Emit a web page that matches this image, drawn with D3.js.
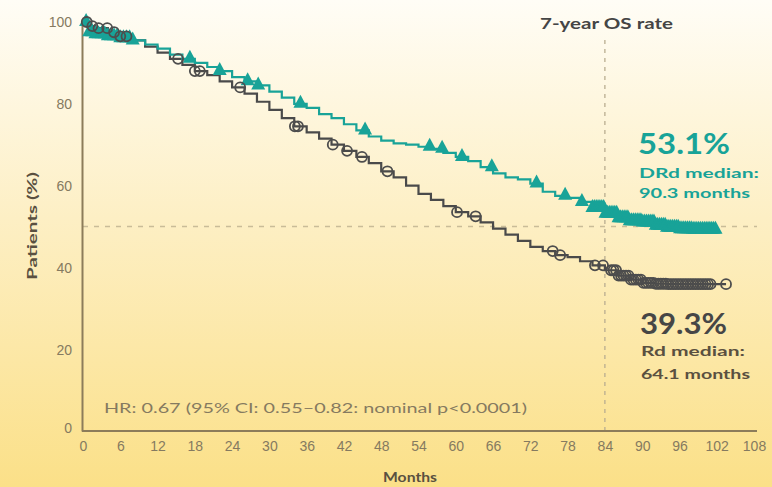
<!DOCTYPE html>
<html>
<head>
<meta charset="utf-8">
<script src="https://cdn.jsdelivr.net/npm/d3@7"></script>
<style>
  body { margin: 0; }
  svg { display: block; font-family: Lato, "DejaVu Sans", sans-serif; }
</style>
</head>
<body>
<div id="chart"></div>
<script>
// KM curves (months, % alive)
var drdMonths = [0, 1, 2, 4, 6, 8, 10, 12, 14, 16, 18, 20, 22, 24, 26, 28, 30, 32, 34, 36, 38, 40, 42, 44, 46, 48, 50, 52, 54, 56, 58, 60, 62, 64, 66, 68, 70, 72, 74, 76, 78, 80, 82, 84, 86, 88, 90, 92, 94, 96, 98, 100, 102]
var drdSurv = [100, 97.5, 97, 96.5, 96, 95.5, 94.5, 93.5, 92, 91, 90, 89, 88, 86.5, 85.5, 84.5, 83, 81.5, 80, 79, 77.5, 76.5, 75, 73.5, 72, 71, 70.3, 70, 69.5, 69, 68, 67, 66, 64.5, 63, 62, 61.5, 60.5, 58.5, 57.5, 57, 56, 54.5, 53.1, 52, 51.3, 51, 50.2, 49.7, 49.3, 49.2, 49.2, 49.2]

var rdMonths = [0, 1, 2, 4, 6, 8, 10, 12, 14, 16, 18, 20, 22, 24, 26, 28, 30, 32, 34, 36, 38, 40, 42, 44, 46, 48, 50, 52, 54, 56, 58, 60, 62, 64, 66, 68, 70, 72, 74, 76, 78, 80, 82, 84, 86, 88, 90, 92, 94, 96, 98, 100, 103.5]
var rdSurv = [100, 99, 98.5, 97.5, 96.5, 95.5, 94, 92.5, 91, 89.5, 88, 87, 85.5, 84, 82.5, 80.5, 78.5, 76.5, 74.5, 73, 71.5, 70, 68.5, 67, 65.5, 63.5, 62, 60, 58, 56.5, 55, 53.5, 52.5, 51, 49.5, 48, 46.5, 45, 44, 43, 42.5, 41.5, 40.5, 39.3, 38, 37, 36.2, 36, 35.9, 35.9, 35.9, 35.9, 35.9]

// censored patients (months)
var drdCensor = [0.5, 1, 1.5, 2, 2.5, 3, 3.5, 4, 4.5, 5, 5.5, 6, 6.5, 7, 7.5, 8, 17.2, 22, 26.5, 28.2, 35, 45.4, 55.8, 57.8, 61, 65.8, 73, 77.6, 80.3,
  82, 82.3, 82.6, 82.9, 83.2, 83.5, 83.8, 84.1, 84.4, 84.7, 85, 85.3, 85.6, 85.9, 86.2, 86.5, 86.8, 87.1, 87.4, 87.7, 88, 88.3, 88.6, 88.9,
  89.2, 89.5, 89.8, 90.1, 90.4, 90.7, 91, 91.3, 91.6, 91.9, 92.2, 92.5, 92.8, 93.1, 93.4, 93.7, 94, 94.3, 94.6, 94.9, 95.2, 95.5, 95.8,
  96.1, 96.4, 96.7, 97, 97.3, 97.6, 97.9, 98.2, 98.5, 98.8, 99.1, 99.4, 99.7, 100, 100.3, 100.6, 100.9, 101.2, 101.5, 101.8]
var rdCensor = [0.6, 1.5, 2.5, 3.9, 5, 6, 7, 15.3, 18, 18.8, 25.3, 34.1, 34.6, 40.2, 42.5, 44.9, 49, 60.2, 63.2, 75.6, 76.8, 82.4, 83.7,
  85, 85.4, 85.8, 86.2, 86.6, 87, 87.4, 87.8, 88.2, 88.6, 89, 89.4, 89.8, 90.2, 90.6, 91, 91.4, 91.8, 92.2, 92.6, 93, 93.4, 93.8,
  94.2, 94.6, 95, 95.4, 95.8, 96.2, 96.6, 97, 97.4, 97.8, 98.2, 98.6, 99, 99.4, 99.8, 100.2, 100.6, 101, 103.5]

var xTicks = [0, 6, 12, 18, 24, 30, 36, 42, 48, 54, 60, 66, 72, 78, 84, 90, 96, 102, 108]
var yTicks = [0, 20, 40, 60, 80, 100]

var W = 772, H = 487
var teal = "#18a398", dark = "#4a4a4a", axisCol = "#8c7c5a", tickCol = "#857a60"

var svg = d3.select("#chart").append("svg")
  .attr("width", W).attr("height", H)

var grad = svg.append("defs").append("linearGradient")
  .attr("id", "bg").attr("x1", 0).attr("y1", 0).attr("x2", 0).attr("y2", 1)
grad.append("stop").attr("offset", "0%").attr("stop-color", "#fffdf6")
grad.append("stop").attr("offset", "45%").attr("stop-color", "#fdefc4")
grad.append("stop").attr("offset", "100%").attr("stop-color", "#fbe088")
svg.append("rect").attr("width", W).attr("height", H).attr("fill", "url(#bg)")

var x = d3.scaleLinear().domain([0, 108]).range([83, 754])
var y = d3.scaleLinear().domain([0, 100]).range([431, 22])

// reference lines
svg.append("line")
  .attr("x1", x(84)).attr("x2", x(84)).attr("y1", 40).attr("y2", y(0))
  .attr("stroke", "#b9ad90").attr("stroke-width", 1.3).attr("stroke-dasharray", "4,5")
svg.append("line")
  .attr("x1", x(0)).attr("x2", 757).attr("y1", y(50)).attr("y2", y(50))
  .attr("stroke", "#c9bc98").attr("stroke-width", 1.5).attr("stroke-dasharray", "5,6")

// axes
var yAxis = svg.append("g")
  .attr("transform", "translate(82,0)")
  .call(d3.axisLeft(y).tickValues(yTicks).tickSize(0).tickPadding(10))
yAxis.select(".domain").attr("stroke", axisCol).attr("stroke-width", 2)
yAxis.selectAll("text").attr("fill", tickCol).attr("font-size", 14).attr("dy", "0.35em")
yAxis.selectAll(".tick").filter(function(d){ return d == 0 }).select("text").attr("dy", "0.1em")

var xAxis = svg.append("g")
  .attr("transform", "translate(0,431)")
  .call(d3.axisBottom(x).tickValues(xTicks).tickSize(0).tickPadding(10))
xAxis.select(".domain").attr("stroke", axisCol).attr("stroke-width", 2)
  .attr("d", "M82,0H757")
xAxis.selectAll("text").attr("fill", tickCol).attr("font-size", 14)

svg.append("text")
  .attr("x", 383).attr("y", 482)
  .attr("font-size", 13).attr("font-weight", "bold").attr("fill", "#5a5040")
  .attr("textLength", 54).attr("lengthAdjust", "spacingAndGlyphs")
  .text("Months")
svg.append("text")
  .attr("transform", "translate(37,280) rotate(-90)")
  .attr("font-size", 13).attr("font-weight", "bold").attr("fill", "#5a5040")
  .attr("textLength", 108).attr("lengthAdjust", "spacingAndGlyphs")
  .text("Patients (%)")

// KM step lines
function stepLine(months, surv) {
  return d3.line()
    .x(function(d, i) { return x(months[i]) })
    .y(function(d, i) { return y(surv[i]) })
    .curve(d3.curveStepAfter)(surv)
}
function survAt(months, surv, t) {
  var i = d3.bisectRight(months, t) - 1
  return surv[Math.max(0, i)]
}

svg.append("path")
  .attr("d", stepLine(rdMonths, rdSurv))
  .attr("fill", "none").attr("stroke", dark).attr("stroke-width", 2.2)
svg.append("path")
  .attr("d", stepLine(drdMonths, drdSurv))
  .attr("fill", "none").attr("stroke", teal).attr("stroke-width", 2.2)

// censor marks
svg.append("g").selectAll("path")
  .data(drdCensor).enter().append("path")
  .attr("transform", function(d) {
    return "translate(" + x(d) + "," + y(survAt(drdMonths, drdSurv, d)) + ")"
  })
  .attr("d", "M-7,4L0,-9L7,4Z")
  .attr("fill", teal)

svg.append("g").selectAll("circle")
  .data(rdCensor).enter().append("circle")
  .attr("cx", function(d) { return x(d) })
  .attr("cy", function(d) { return y(survAt(rdMonths, rdSurv, d)) })
  .attr("r", 5)
  .attr("fill", "none")
  .attr("stroke", "#4d4d4d").attr("stroke-width", 1.8)

// annotations
svg.append("text")
  .attr("x", 540).attr("y", 29)
  .attr("font-size", 15).attr("font-weight", "bold").attr("fill", "#454545")
  .attr("textLength", 133).attr("lengthAdjust", "spacingAndGlyphs")
  .text("7-year OS rate")

svg.append("text")
  .attr("x", 638).attr("y", 154)
  .attr("font-size", 29).attr("font-weight", "bold").attr("fill", teal)
  .attr("textLength", 92).attr("lengthAdjust", "spacingAndGlyphs")
  .text("53.1%")
svg.append("text")
  .attr("x", 639).attr("y", 178)
  .attr("font-size", 14).attr("font-weight", "bold").attr("fill", teal)
  .attr("textLength", 120).attr("lengthAdjust", "spacingAndGlyphs")
  .text("DRd median:")
svg.append("text")
  .attr("x", 639).attr("y", 198)
  .attr("font-size", 14).attr("font-weight", "bold").attr("fill", teal)
  .attr("textLength", 111).attr("lengthAdjust", "spacingAndGlyphs")
  .text("90.3 months")

svg.append("text")
  .attr("x", 640).attr("y", 334)
  .attr("font-size", 29).attr("font-weight", "bold").attr("fill", "#464646")
  .attr("textLength", 87).attr("lengthAdjust", "spacingAndGlyphs")
  .text("39.3%")
svg.append("text")
  .attr("x", 641).attr("y", 356)
  .attr("font-size", 14).attr("font-weight", "bold").attr("fill", "#5a5040")
  .attr("textLength", 104).attr("lengthAdjust", "spacingAndGlyphs")
  .text("Rd median:")
svg.append("text")
  .attr("x", 641).attr("y", 379)
  .attr("font-size", 14).attr("font-weight", "bold").attr("fill", "#5a5040")
  .attr("textLength", 109).attr("lengthAdjust", "spacingAndGlyphs")
  .text("64.1 months")

svg.append("text")
  .attr("x", 104).attr("y", 413)
  .attr("font-size", 14).attr("fill", tickCol)
  .attr("textLength", 423).attr("lengthAdjust", "spacingAndGlyphs")
  .text("HR: 0.67 (95% CI: 0.55–0.82: nominal p<0.0001)")
</script>
</body>
</html>
